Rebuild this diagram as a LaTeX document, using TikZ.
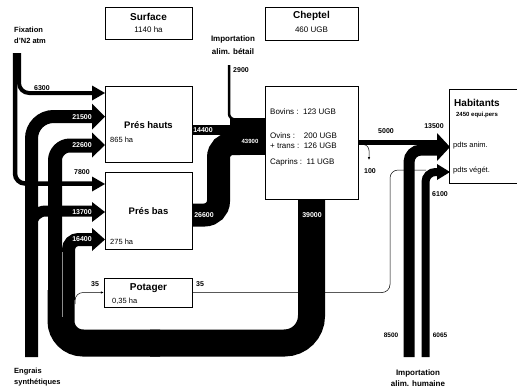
\documentclass[tikz,border=0pt]{standalone}
\usepackage{fontspec}
\setmainfont{Liberation Sans}
\usetikzlibrary{arrows.meta,positioning}
\tikzset{box/.style={draw,line width=.5pt,fill=white,inner sep=0pt},
  ttl/.style={font=\fontsize{10}{12}\selectfont\bfseries,inner sep=0pt},
  txt/.style={font=\fontsize{7.5}{9}\selectfont,inner sep=0pt},
  lab/.style={font=\fontsize{7.5}{11}\selectfont\bfseries,inner sep=0pt,align=left},
  num/.style={font=\fontsize{7}{8}\selectfont\bfseries,inner sep=0pt},
  wnum/.style={num,text=white},
  flow/.style={line width=#1},
  thin/.style={line width=.5pt,rounded corners=8pt}}
\newcommand{\headin}[2]{\fill (92,#1-#2) -- (105,#1) -- (92,#1+#2) -- cycle;}
\begin{document}
\begin{tikzpicture}[x=1pt,y=-1pt]
\useasboundingbox (0,0) rectangle (517,391);
% fixation N2 et engrais
\draw[flow=4pt,rounded corners=10pt] (19,53) -- (19,93) -- (92,93);
\draw[flow=4.5pt,rounded corners=10pt] (15,53) -- (15,183.5) -- (92,183.5);
\draw[flow=13pt,rounded corners=22pt] (31.5,357) -- (31.5,116.5) -- (92,116.5);
\draw[flow=11pt,rounded corners=14pt] (31.5,260) -- (31.5,211) -- (92,211);
% retour fumier 39000
\draw[flow=27pt,rounded corners=27pt] (311.5,199) -- (311.5,343) -- (150,343);
\draw[flow=27pt,rounded corners=22pt] (160,343) -- (61,343) -- (61,290);
\draw[flow=14pt,rounded corners=15pt] (55,300) -- (55,145.5) -- (92,145.5);
\draw[flow=13pt,rounded corners=10pt] (68.5,300) -- (68.5,239.5) -- (92,239.5);
\draw[black!45,line width=.4pt] (62,252) -- (62,317);
\headin{93}{7.5}\headin{116.5}{13}\headin{145}{12.5}\headin{184}{7.5}\headin{212}{10}\headin{239.5}{11.5}
% pres -> cheptel
\draw[flow=10pt] (192,130) -- (240,130);
\draw[flow=2.5pt,rounded corners=6pt] (229,65) -- (229,119.5) -- (240,119.5);
\draw[flow=23pt,rounded corners=14pt] (192,215) -- (218.5,215) -- (218.5,143.5) -- (240,143.5);
\fill (230,118) rectangle (265,155);
% vers habitants
\draw[flow=11pt,rounded corners=12pt] (409,357) -- (409,150) -- (437,150);
\draw[flow=5pt] (358,142) -- (437,142);
\fill (437,133) -- (450,147) -- (437,161) -- cycle;
\draw[flow=8pt,rounded corners=10pt] (425.5,357) -- (425.5,172) -- (437,172);
\fill (437,164) -- (450,172) -- (437,180) -- cycle;
% boites
\node[box,minimum width=87pt,minimum height=32pt] (surf) at (148.5,23.5) {};
\node[box,minimum width=93pt,minimum height=33pt] (chep) at (311.5,24) {};
\node[box,minimum width=87pt,minimum height=76pt] (ph) at (148.5,124) {};
\node[box,minimum width=87pt,minimum height=77pt] (pb) at (148.5,210.5) {};
\node[box,minimum width=88pt,minimum height=29pt] (pot) at (148,292.5) {};
\node[box,minimum width=93pt,minimum height=113pt] (cht) at (311.5,142.5) {};
\node[box,minimum width=71pt,minimum height=94pt] (hab) at (484.5,136) {};
% flux fins
\draw[thin] (pot.east) -- (390,292.5) -- (390,170) -- (426,170);
\draw[thin,-{Latex[length=3pt,width=2.5pt]}] (75,304) -- (75,292.5) -- (pot.west);
\coordinate (c100) at (369,160);
\draw[thin,rounded corners=6pt,-{Latex[length=3pt,width=2.5pt]}] (cht.east |- 0,144.5) -- (369,144.5) -- (c100);
% textes
\node[ttl] (tsurf) at (148.5,16.5) {Surface};
\node[txt,font=\fontsize{8}{9}\selectfont] (vsurf) at (148.5,30) {1140 ha};
\node[ttl] (tchep) at (311.5,16) {Cheptel};
\node[txt,font=\fontsize{8}{9}\selectfont] (vchep) at (311.5,29.5) {460 UGB};
\node[ttl,font=\fontsize{9.5}{12}\selectfont\bfseries] (tph) at (148.5,125) {Prés hauts};
\node[txt,anchor=west] (vph) at (110,140) {865 ha};
\node[ttl,font=\fontsize{9.5}{12}\selectfont\bfseries] (tpb) at (148.5,211) {Prés bas};
\node[txt,anchor=west] (vpb) at (110,242) {275 ha};
\node[ttl] (tpot) at (148.5,288) {Potager};
\node[txt,anchor=west] (vpot) at (112,301) {0,35 ha};
\node[txt,font=\fontsize{8}{9}\selectfont,anchor=west] (bov) at (270,112) {Bovins :\ \ 123 UGB};
\node[txt,font=\fontsize{8}{9}\selectfont,anchor=west] (ovi) at (270,136) {Ovins :\ \ \ \ 200 UGB};
\node[txt,font=\fontsize{8}{9}\selectfont,anchor=west] (tra) at (270,145.5) {+ trans :\ \ 126 UGB};
\node[txt,font=\fontsize{8}{9}\selectfont,anchor=west] (cap) at (270,162) {Caprins :\ \ 11 UGB};
\node[ttl] (thab) at (477,103) {Habitants};
\node[num,font=\fontsize{6}{7}\selectfont\bfseries] (vhab) at (477,115) {2450 equi.pers};
\node[txt,anchor=west] (pan) at (453,146) {pdts anim.};
\node[txt,anchor=west] (pve) at (453,171) {pdts végét.};
\node[lab,anchor=north west] (fix) at (14,26.5) {Fixation\\d’N2 atm};
\node[lab,font=\fontsize{8}{13}\selectfont\bfseries,align=center] (ialb) at (233,45) {Importation\\alim. bétail};
\node[lab,anchor=north west] (engr) at (14,367.5) {Engrais\\synthétiques};
\node[lab,font=\fontsize{8}{10.5}\selectfont\bfseries,align=center] (ialh) at (418,378) {Importation\\alim. humaine};
% valeurs
\node[num] (n6300) at (42,88) {6300};
\node[wnum] (n21500) at (82,117) {21500};
\node[wnum] (n22600) at (82,145) {22600};
\node[num] (n7800) at (82,172) {7800};
\node[wnum] (n13700) at (82,212) {13700};
\node[wnum] (n16400) at (82,239) {16400};
\node[num] (n35a) at (95,284) {35};
\node[num] (n35b) at (200,284) {35};
\node[wnum] (n14400) at (203,130) {14400};
\node[wnum,font=\fontsize{6}{7}\selectfont\bfseries] (n43900) at (250,141) {43900};
\node[wnum] (n26600) at (204,215) {26600};
\node[num] (n2900) at (241,70) {2900};
\node[wnum] (n39000) at (312,215) {39000};
\node[num] (n5000) at (386,131) {5000};
\node[num] (n100) at (370,171) {100};
\node[num] (n13500) at (434,126) {13500};
\node[num] (n6100) at (440,194) {6100};
\node[num,font=\fontsize{6.5}{7}\selectfont\bfseries] (n8500) at (391,335) {8500};
\node[num,font=\fontsize{6.5}{7}\selectfont\bfseries] (n6065) at (440,335) {6065};
\end{tikzpicture}
\end{document}
